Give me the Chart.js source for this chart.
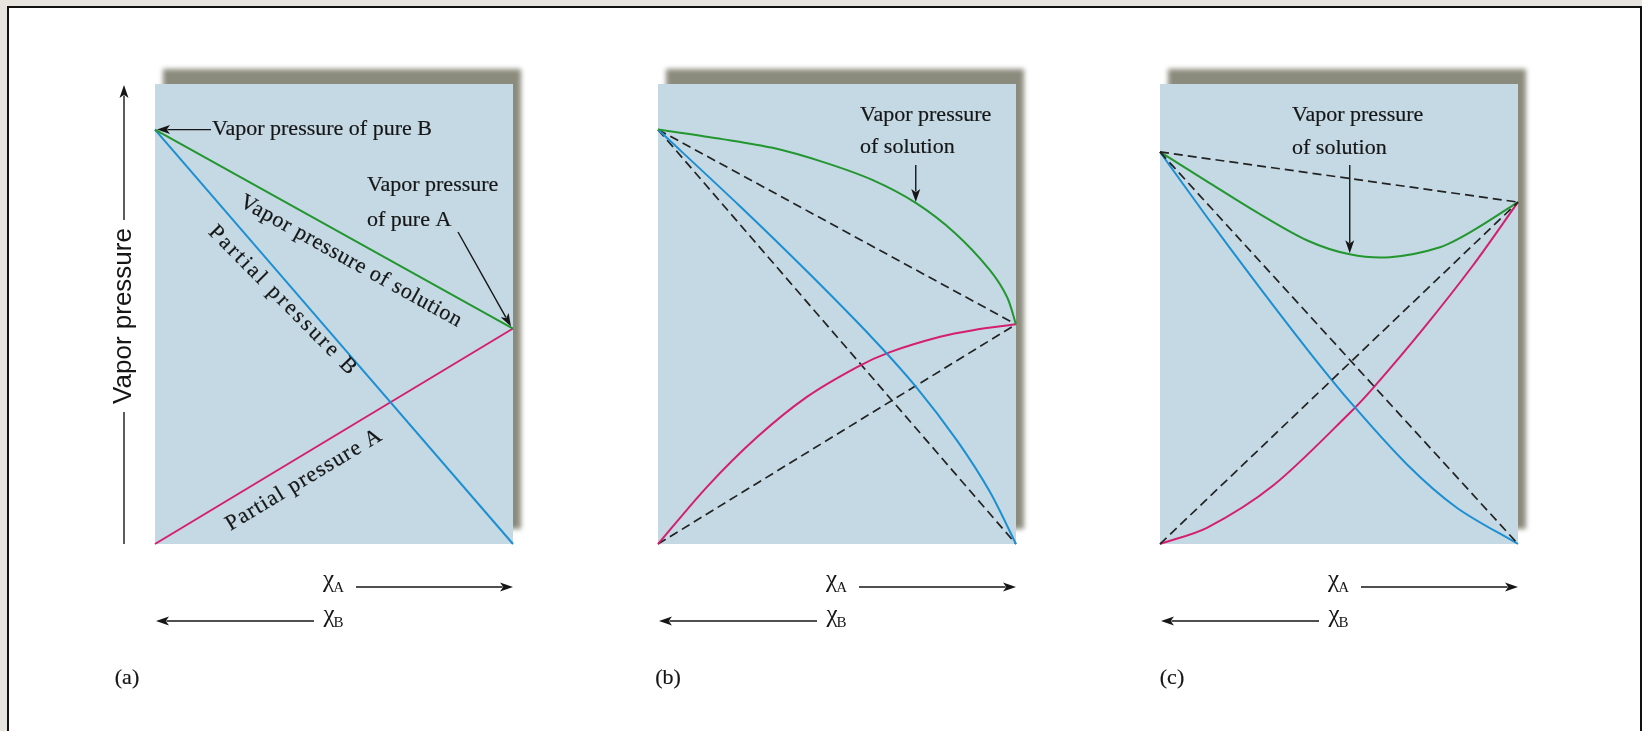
<!DOCTYPE html>
<html>
<head>
<meta charset="utf-8">
<script src="https://cdn.jsdelivr.net/npm/chart.js@4"></script>
<style>
  html, body { margin: 0; padding: 0; }
  body { width: 1642px; height: 731px; overflow: hidden; background: #e7e4e0; position: relative; }
  #frame { position: absolute; left: 7px; top: 6px; width: 1631px; height: 760px; background: #fff; border: 2px solid #111; }
  canvas { position: absolute; left: 0; top: 0; }
</style>
</head>
<body>
<div id="frame"></div>
<canvas id="pa" width="1642" height="731"></canvas>
<canvas id="pb" width="1642" height="731"></canvas>
<canvas id="pc" width="1642" height="731"></canvas>
<script>
// mole fraction of A runs 0..1 left to right, pressure in arbitrary units (pure B of (a) = 100)
const yMax = 111;

// (a) ideal solution
const aX = [0, 1];
const aSolution = [100, 52];
const aPartialB = [100, 0];
const aPartialA = [0, 52];

// (b) positive deviation
const bSolX = [0, 0.18, 0.32, 0.46, 0.60, 0.72, 0.83, 0.927, 0.975, 1];
const bSolY = [100, 97.7, 95.6, 92.2, 87.8, 82.3, 75.0, 66.1, 59.6, 53];
const bPBX = [0, 0.229, 0.416, 0.60, 0.723, 0.835, 0.927, 1];
const bPBY = [100, 81.5, 65.8, 49.6, 37.7, 25.0, 12.6, 0];
const bPAX = [0, 0.137, 0.277, 0.416, 0.556, 0.648, 0.788, 0.88, 1];
const bPAY = [0, 13.8, 25.8, 35.5, 42.7, 46.3, 50.0, 51.6, 53];
const bIdealX = [0, 1];
const bIdealSol = [100, 53];
const bIdealB = [100, 0];
const bIdealA = [0, 53];

// (c) negative deviation
const cSolX = [0, 0.131, 0.271, 0.41, 0.53, 0.642, 0.782, 0.874, 1];
const cSolY = [94.6, 87.5, 80.0, 73.3, 69.9, 69.2, 71.6, 75.6, 82.5];
const cPBX = [0, 0.131, 0.271, 0.41, 0.53, 0.69, 0.83, 1];
const cPBY = [94.6, 78.9, 62.7, 47.1, 34.4, 19.2, 8.7, 0];
const cPAX = [0, 0.131, 0.316, 0.53, 0.595, 0.735, 0.874, 1];
const cPAY = [0, 3.9, 14.1, 31.6, 37.6, 51.9, 67.2, 82.5];
const cIdealX = [0, 1];
const cIdealSol = [94.6, 82.5];
const cIdealB = [94.6, 0];
const cIdealA = [0, 82.5];

const GREEN = '#23962f', BLUE = '#1c8fd3', PINK = '#d51f6e', INK = '#161616';
const SERIF = '"Liberation Serif", "Times New Roman", serif';
const SANS = '"Liberation Sans", Arial, sans-serif';

function pts(xs, ys) { return xs.map((x, i) => ({ x, y: ys[i] })); }
function solid(data, color) {
  return { data, borderColor: color, borderWidth: 2, pointRadius: 0, fill: false, clip: false, tension: 0.3 };
}
function dashed(data) {
  return { data, borderColor: '#222', borderWidth: 1.7, borderDash: [9, 5], pointRadius: 0, fill: false, clip: false };
}

function arrow(ctx, x1, y1, x2, y2) {
  const a = Math.atan2(y2 - y1, x2 - x1), L = 13, W = 4.5;
  ctx.save();
  ctx.strokeStyle = INK; ctx.fillStyle = INK; ctx.lineWidth = 1.4;
  ctx.beginPath(); ctx.moveTo(x1, y1);
  ctx.lineTo(x2 - Math.cos(a) * L * 0.8, y2 - Math.sin(a) * L * 0.8); ctx.stroke();
  ctx.beginPath(); ctx.moveTo(x2, y2);
  ctx.lineTo(x2 - Math.cos(a) * L + Math.sin(a) * W, y2 - Math.sin(a) * L - Math.cos(a) * W);
  ctx.lineTo(x2 - Math.cos(a) * L * 0.75, y2 - Math.sin(a) * L * 0.75);
  ctx.lineTo(x2 - Math.cos(a) * L - Math.sin(a) * W, y2 - Math.sin(a) * L + Math.cos(a) * W);
  ctx.closePath(); ctx.fill();
  ctx.restore();
}

function text(ctx, s, x, y, font, align, spacing) {
  ctx.save();
  ctx.font = font; ctx.fillStyle = INK; ctx.strokeStyle = INK; ctx.lineWidth = 0.2;
  ctx.textAlign = align || 'left'; ctx.textBaseline = 'middle';
  if (spacing) ctx.letterSpacing = spacing + 'px';
  ctx.fillText(s, x, y);
  if (font.indexOf('Serif') >= 0) ctx.strokeText(s, x, y);
  ctx.restore();
}

// text rotated along a dataset line, placed at fraction t and shifted below it
function alongLine(chart, dsIndex, t, off, s, spacing, dAng) {
  const ctx = chart.ctx, d = chart.getDatasetMeta(dsIndex).data;
  const p0 = d[0], p1 = d[d.length - 1];
  const ang = Math.atan2(p1.y - p0.y, p1.x - p0.x);
  const x = p0.x + (p1.x - p0.x) * t, y = p0.y + (p1.y - p0.y) * t;
  ctx.save();
  ctx.translate(x - Math.sin(ang) * off, y + Math.cos(ang) * off);
  ctx.rotate(ang + (dAng || 0) * Math.PI / 180);
  text(ctx, s, 0, 0, '22px ' + SERIF, 'center', spacing);
  ctx.restore();
}

function chi(ctx, sub, cx, y) {
  ctx.save();
  ctx.font = '25px ' + SERIF;
  const w1 = ctx.measureText('χ').width;
  ctx.font = '15px ' + SERIF;
  const w2 = ctx.measureText(sub).width;
  const x0 = cx - (w1 + w2) / 2;
  ctx.fillStyle = INK; ctx.textBaseline = 'middle';
  ctx.font = '25px ' + SERIF; ctx.fillText('χ', x0, y);
  ctx.font = '15px ' + SERIF; ctx.fillText(sub, x0 + w1 - 1, y + 8);
  ctx.restore();
}

const panelPlugin = {
  id: 'panel',
  beforeDraw(chart, args, opts) {
    const { ctx, chartArea: a } = chart;
    ctx.save();
    ctx.filter = 'blur(2.5px)';
    ctx.fillStyle = '#8b8b7d';
    ctx.fillRect(a.left + 8, a.top - 15, a.right - a.left, a.bottom - a.top);
    ctx.restore();
    ctx.save();
    ctx.fillStyle = '#c4d9e4';
    ctx.fillRect(a.left, a.top, a.right - a.left, a.bottom - a.top);
    ctx.restore();
  },
  afterDraw(chart, args, opts) {
    const { ctx, chartArea: a } = chart;
    const cx = (a.left + a.right) / 2;
    chi(ctx, 'A', cx, 580);
    arrow(ctx, cx + 22, 587, a.right, 587);
    chi(ctx, 'B', cx, 615);
    arrow(ctx, cx - 20, 621, a.left + 1, 621);
    text(ctx, opts.tag, opts.tagX, 678, '22px ' + SERIF, 'center');
    opts.extra(chart);
  }
};

function makePanel(id, left, right, datasets, tag, tagX, extra) {
  return new Chart(document.getElementById(id), {
    type: 'line',
    data: { datasets },
    plugins: [panelPlugin],
    options: {
      responsive: false, animation: false, events: [],
      layout: { padding: { left, right: 1642 - right, top: 84, bottom: 731 - 544 } },
      scales: {
        x: { type: 'linear', min: 0, max: 1, display: false },
        y: { type: 'linear', min: 0, max: yMax, display: false }
      },
      plugins: { legend: { display: false }, tooltip: { enabled: false }, panel: { tag, tagX, extra } }
    }
  });
}

makePanel('pa', 155, 513, [
  solid(pts(aX, aSolution), GREEN),
  solid(pts(aX, aPartialB), BLUE),
  solid(pts(aX, aPartialA), PINK)
], '(a)', 127, chart => {
  const ctx = chart.ctx, a = chart.chartArea;
  const sol = chart.getDatasetMeta(0).data;
  // vertical axis label
  ctx.save();
  ctx.font = '26px ' + SANS;
  const w = ctx.measureText('Vapor pressure').width;
  ctx.restore();
  const ax = 124, mid = 316;
  ctx.save(); ctx.strokeStyle = INK; ctx.lineWidth = 1.4;
  ctx.beginPath(); ctx.moveTo(ax, a.bottom); ctx.lineTo(ax, mid + w / 2 + 8); ctx.stroke(); ctx.restore();
  arrow(ctx, ax, mid - w / 2 - 8, ax, 85);
  ctx.save(); ctx.translate(ax, mid); ctx.rotate(-Math.PI / 2);
  text(ctx, 'Vapor pressure', 0, 0, '26px ' + SANS, 'center'); ctx.restore();
  // pure component labels
  text(ctx, 'Vapor pressure of pure B', 212, sol[0].y, '22px ' + SERIF);
  arrow(ctx, 211, sol[0].y, sol[0].x + 2, sol[0].y);
  text(ctx, 'Vapor pressure', 367, 185, '22px ' + SERIF);
  text(ctx, 'of pure A', 367, 220, '22px ' + SERIF);
  arrow(ctx, 458, 232, sol[1].x - 2, sol[1].y - 2);
  alongLine(chart, 0, 0.575, 20, 'Vapor pressure of solution', 0.75);
  alongLine(chart, 1, 0.39, 15, 'Partial pressure B', 2.6, -4);
  alongLine(chart, 2, 0.385, 22, 'Partial pressure A', 1.2);
});

makePanel('pb', 658, 1016, [
  solid(pts(bSolX, bSolY), GREEN),
  solid(pts(bPBX, bPBY), BLUE),
  solid(pts(bPAX, bPAY), PINK),
  dashed(pts(bIdealX, bIdealSol)),
  dashed(pts(bIdealX, bIdealB)),
  dashed(pts(bIdealX, bIdealA))
], '(b)', 668, chart => {
  const ctx = chart.ctx, p = chart.getDatasetMeta(0).data[5];
  text(ctx, 'Vapor pressure', 860, 115, '22px ' + SERIF);
  text(ctx, 'of solution', 860, 147, '22px ' + SERIF);
  arrow(ctx, p.x, 165, p.x, p.y - 1);
});

makePanel('pc', 1160, 1518, [
  dashed(pts(cIdealX, cIdealSol)),
  dashed(pts(cIdealX, cIdealB)),
  dashed(pts(cIdealX, cIdealA)),
  solid(pts(cSolX, cSolY), GREEN),
  solid(pts(cPBX, cPBY), BLUE),
  solid(pts(cPAX, cPAY), PINK)
], '(c)', 1172, chart => {
  const ctx = chart.ctx, p = chart.getDatasetMeta(3).data[4];
  text(ctx, 'Vapor pressure', 1292, 115, '22px ' + SERIF);
  text(ctx, 'of solution', 1292, 148, '22px ' + SERIF);
  arrow(ctx, p.x, 165, p.x, p.y - 1);
});
</script>
</body>
</html>
